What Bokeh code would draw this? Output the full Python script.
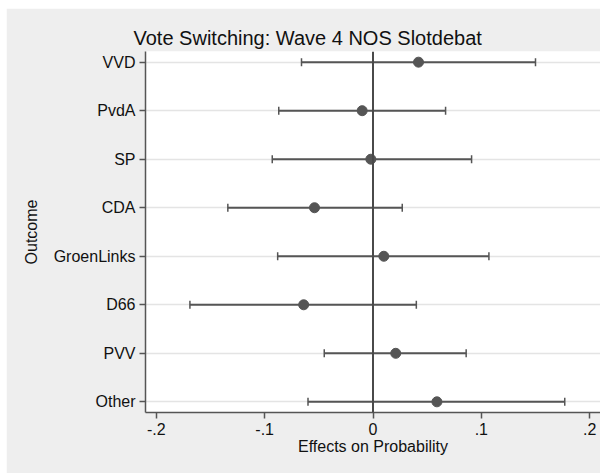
from bokeh.plotting import figure
from bokeh.models import ColumnDataSource, Whisker, Span, FixedTicker, Range1d, TeeHead
from bokeh.embed import file_html
from bokeh.resources import INLINE

# ---- data ----
categories = ["VVD", "PvdA", "SP", "CDA", "GroenLinks", "D66", "PVV", "Other"]
estimates = [0.042, -0.010, -0.002, -0.054, 0.010, -0.064, 0.021, 0.059]
lower = [-0.066, -0.087, -0.093, -0.134, -0.088, -0.169, -0.045, -0.060]
upper = [0.150, 0.067, 0.091, 0.027, 0.107, 0.040, 0.086, 0.177]
x_ticks = [-0.2, -0.1, 0.0, 0.1, 0.2]
x_tick_labels = ["-.2", "-.1", "0", ".1", ".2"]

n = len(categories)
ypos = [n - i for i in range(n)]

src = ColumnDataSource(dict(cat=categories, est=estimates, lo=lower, hi=upper, y=ypos))

FONT = "Liberation Sans"
BG = "#eeeeee"
DARK = "#555555"

p = figure(width=594, height=465, output_backend="svg", toolbar_location=None,
           x_range=Range1d(-0.21, 0.21), y_range=Range1d(0.78, n + 0.22),
           margin=(8, 0, 0, 6),
           min_border_left=139, min_border_right=0, min_border_top=43, min_border_bottom=61)

p.border_fill_color = BG
p.background_fill_color = "white"
p.outline_line_color = None

p.title.text = "Vote Switching: Wave 4 NOS Slotdebat"
p.title.text_font = FONT
p.title.text_font_size = "20px"
p.title.text_font_style = "normal"
p.title.text_color = "#111111"
p.title.align = "left"
p.title.offset = -12
p.title.standoff = 5

# grid
p.xgrid.grid_line_color = None
p.ygrid.grid_line_color = "#e4e4e4"
p.ygrid.grid_line_width = 1.5

# zero line
p.add_layout(Span(location=0, dimension="height", line_color="#4a4a4a", line_width=2))

# error bars
w = Whisker(source=src, base="y", lower="lo", upper="hi", dimension="width",
            line_color=DARK, line_width=2,
            lower_head=TeeHead(size=8, line_color=DARK, line_width=1.5),
            upper_head=TeeHead(size=8, line_color=DARK, line_width=1.5))
p.add_layout(w)

p.scatter("est", "y", source=src, size=10, color=DARK)

# axes
for ax in (p.xaxis[0], p.yaxis[0]):
    ax.axis_line_color = DARK
    ax.axis_line_width = 1.5
    ax.major_tick_line_color = DARK
    ax.major_tick_line_width = 1.5
    ax.major_tick_out = 6
    ax.major_tick_in = 0
    ax.minor_tick_line_color = None
    ax.major_label_text_font = FONT
    ax.major_label_text_font_size = "16px"
    ax.major_label_text_color = "#111111"
    ax.axis_label_text_font = FONT
    ax.axis_label_text_font_size = "16px"
    ax.axis_label_text_font_style = "normal"
    ax.axis_label_text_color = "#111111"

p.xaxis.ticker = FixedTicker(ticks=x_ticks)
p.xaxis.major_label_overrides = {t: l for t, l in zip(x_ticks, x_tick_labels)}
p.xaxis.axis_label = "Effects on Probability"
p.xaxis.major_label_standoff = 4
p.xaxis.axis_label_standoff = 0

p.yaxis.ticker = FixedTicker(ticks=ypos)
p.yaxis.major_label_overrides = {y: c for y, c in zip(ypos, categories)}
p.yaxis.axis_label = "Outcome"
p.yaxis.major_label_standoff = 4
p.yaxis.axis_label_standoff = 11

open("out.html", "w").write(file_html(p, INLINE))
